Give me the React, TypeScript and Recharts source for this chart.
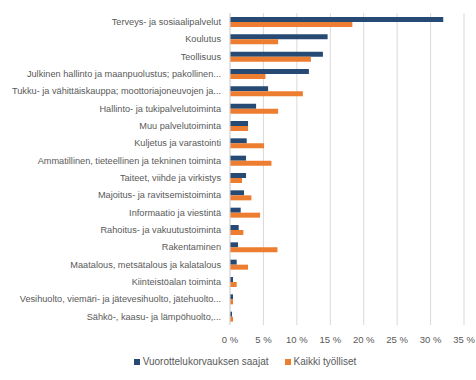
import { BarChart, Bar, XAxis, YAxis, CartesianGrid } from 'recharts';

const categories = [
  'Terveys- ja sosiaalipalvelut',
  'Koulutus',
  'Teollisuus',
  'Julkinen hallinto ja maanpuolustus; pakollinen...',
  'Tukku- ja vähittäiskauppa; moottoriajoneuvojen ja...',
  'Hallinto- ja tukipalvelutoiminta',
  'Muu palvelutoiminta',
  'Kuljetus ja varastointi',
  'Ammatillinen, tieteellinen ja tekninen toiminta',
  'Taiteet, viihde ja virkistys',
  'Majoitus- ja ravitsemistoiminta',
  'Informaatio ja viestintä',
  'Rahoitus- ja vakuutustoiminta',
  'Rakentaminen',
  'Maatalous, metsätalous ja kalatalous',
  'Kiinteistöalan toiminta',
  'Vesihuolto, viemäri- ja jätevesihuolto, jätehuolto...',
  'Sähkö-, kaasu- ja lämpöhuolto,...',
];

const vuorottelu = [31.9, 14.6, 13.9, 11.8, 5.7, 3.9, 2.7, 2.5, 2.4, 2.4, 2.1, 1.6, 1.3, 1.2, 1.0, 0.45, 0.45, 0.3];
const kaikki = [18.3, 7.2, 12.1, 5.3, 10.9, 7.2, 2.7, 5.1, 6.2, 1.8, 3.2, 4.5, 2.0, 7.1, 2.7, 1.0, 0.45, 0.45];

const xTicks = [0, 5, 10, 15, 20, 25, 30, 35];

const series = [
  { key: 'vuorottelu', name: 'Vuorottelukorvauksen saajat', color: '#264A73' },
  { key: 'kaikki', name: 'Kaikki työlliset', color: '#ED7D31' },
];

const data = categories.map((name, i) => ({
  name,
  vuorottelu: vuorottelu[i],
  kaikki: kaikki[i],
}));

const FONT = '"Liberation Sans", Arial, sans-serif';
const TEXT = '#595959';

function CategoryTick(props: any) {
  const { x, y, payload } = props;
  return (
    <text x={x} y={y} dy="0.35em" textAnchor="end" fill={TEXT} fontSize={9.2} fontFamily={FONT}>
      {payload.value}
    </text>
  );
}

export default function App() {
  return (
    <div style={{ position: 'absolute', left: 0, top: 0, width: 476, height: 380, background: '#fff' }}>
      <BarChart
        width={476}
        height={380}
        data={data}
        layout="vertical"
        margin={{ top: 13, right: 12, bottom: 25, left: 0 }}
        barSize={5}
        barGap={0}
        style={{ fontFamily: FONT }}
      >
        <CartesianGrid horizontal={false} stroke="#D9D9D9" strokeWidth={1} />
        <XAxis
          type="number"
          domain={[0, 35]}
          ticks={xTicks}
          tickFormatter={(v: number) => `${v} %`}
          axisLine={false}
          tickLine={false}
          tickSize={0}
          tickMargin={11}
          height={30}
          tick={{ fill: TEXT, fontSize: 9.5 }}
          interval={0}
        />
        <YAxis
          type="category"
          dataKey="name"
          width={230}
          axisLine={{ stroke: '#D9D9D9' }}
          tickLine={false}
          tickSize={0}
          tickMargin={9}
          interval={0}
          tick={<CategoryTick />}
        />
        {series.map((s) => (
          <Bar key={s.key} dataKey={s.key} name={s.name} fill={s.color} isAnimationActive={false} />
        ))}
      </BarChart>
      <div
        style={{
          position: 'absolute',
          top: 355,
          left: 0,
          width: 476,
          display: 'flex',
          justifyContent: 'center',
          gap: 16,
          fontFamily: FONT,
          fontSize: 10,
          color: TEXT,
          lineHeight: '14px',
          paddingLeft: 14,
          boxSizing: 'border-box',
        }}
      >
        {series.map((s) => (
          <div key={s.key} style={{ display: 'flex', alignItems: 'center' }}>
            <span style={{ display: 'inline-block', width: 6, height: 6, background: s.color, marginRight: 3 }} />
            {s.name}
          </div>
        ))}
      </div>
    </div>
  );
}
